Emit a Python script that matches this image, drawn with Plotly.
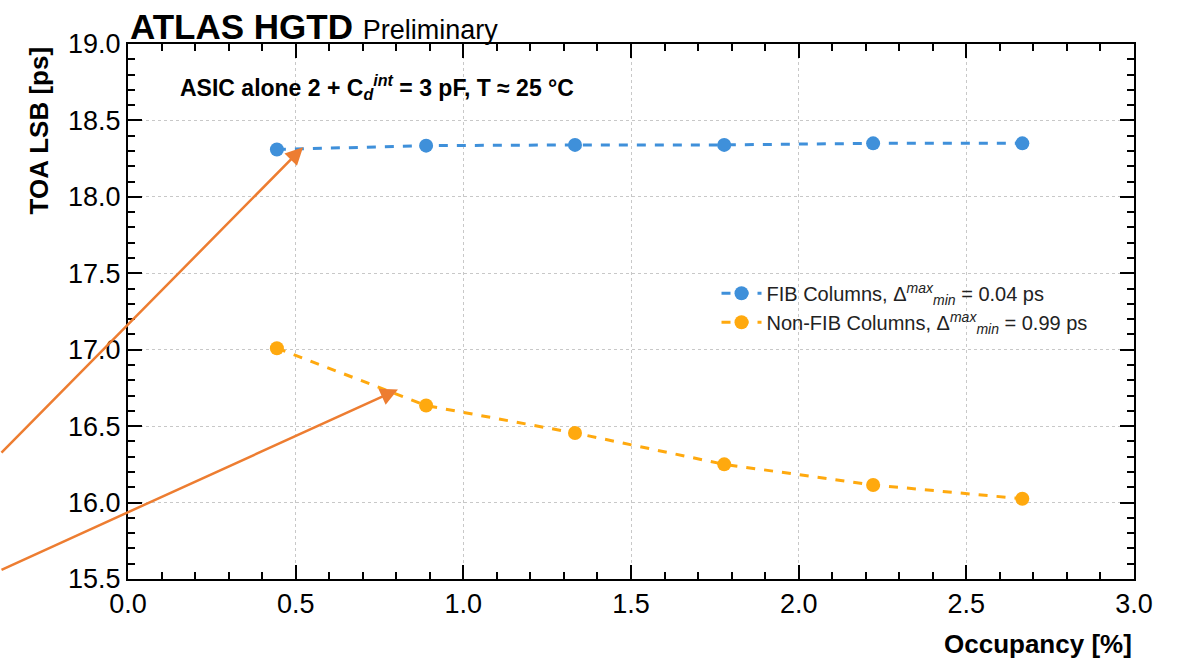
import plotly.graph_objects as go

occupancy = [0.444, 0.889, 1.333, 1.778, 2.222, 2.667]
fib_lsb = [18.31, 18.335, 18.34, 18.34, 18.35, 18.35]
nonfib_lsb = [17.01, 16.635, 16.455, 16.25, 16.115, 16.025]

fib_name = "FIB Columns, Δ<sup><i>max</i></sup><sub><i>min</i></sub> = 0.04 ps"
nonfib_name = "Non-FIB Columns, Δ<sup><i>max</i></sup><sub><i>min</i></sub> = 0.99 ps"

FONT = "Liberation Sans, Arial, Helvetica, sans-serif"
BLUE = "#3f90da"
ORANGE = "#ffa90e"
ARROW = "#ED7D31"

fig = go.Figure()
fig.add_trace(go.Scatter(x=occupancy, y=fib_lsb, mode="lines+markers", name=fib_name,
                         line=dict(color=BLUE, width=3, dash="dash"),
                         marker=dict(color=BLUE, size=14)))
fig.add_trace(go.Scatter(x=occupancy, y=nonfib_lsb, mode="lines+markers", name=nonfib_name,
                         line=dict(color=ORANGE, width=3, dash="dash"),
                         marker=dict(color=ORANGE, size=14)))

axis_common = dict(
    showline=True, linecolor="black", linewidth=2, mirror="allticks",
    ticks="inside", ticklen=14, tickwidth=2, tickcolor="black",
    showgrid=True, gridcolor="#c8c8c8", griddash="dot", gridwidth=1,
    zeroline=False, tickfont=dict(family=FONT, size=27, color="black"),
    minor=dict(ticks="inside", ticklen=7, tickwidth=1.5, tickcolor="black", dtick=0.1, showgrid=False),
)

fig.update_xaxes(range=[0, 3.0], dtick=0.5, tickformat=".1f", **axis_common)
fig.update_yaxes(range=[15.5, 19.0], dtick=0.5, tickformat=".1f", **axis_common)

fig.update_layout(
    width=1178, height=660,
    margin=dict(l=128, r=44, t=44, b=81),
    plot_bgcolor="white", paper_bgcolor="white",
    font=dict(family=FONT, color="black"),
    showlegend=True,
    legend=dict(x=0.585, y=0.507, xanchor="left", yanchor="middle",
                bgcolor="rgba(255,255,255,0)", font=dict(family=FONT, size=20, color="#222"),
                tracegroupgap=4, itemwidth=40),
)

annotations = [
    dict(text="<b>ATLAS HGTD</b> <span style='font-size:27px'>Preliminary</span>",
         xref="paper", yref="paper", x=0.0, y=1.0, xanchor="left", yanchor="bottom",
         showarrow=False, font=dict(family=FONT, size=35, color="black"), yshift=-4),
    dict(text="<b>ASIC alone 2 + C<sub><i>d</i></sub><sup><i>int</i></sup> = 3 pF, T ≈ 25 °C</b>",
         xref="paper", yref="paper", x=0.05, y=0.92, xanchor="left", yanchor="middle",
         showarrow=False, font=dict(family=FONT, size=23, color="black")),
    dict(text="<b>TOA LSB [ps]</b>", xref="paper", yref="paper", x=-0.088, y=1.0,
         xanchor="center", yanchor="top", textangle=-90, showarrow=False,
         font=dict(family=FONT, size=26, color="black")),
    dict(text="<b>Occupancy [%]</b>", xref="paper", yref="paper", x=1.0, y=-0.09,
         xanchor="right", yanchor="top", showarrow=False,
         font=dict(family=FONT, size=26, color="black")),
    dict(text="", x=0.522, y=18.325, xref="x", yref="y", showarrow=True,
         ax=-323, ay=307, arrowhead=2, arrowsize=1.4, arrowwidth=2.5, arrowcolor=ARROW),
    dict(text="", x=0.805, y=16.74, xref="x", yref="y", showarrow=True,
         ax=-418, ay=181, arrowhead=2, arrowsize=1.4, arrowwidth=2.5, arrowcolor=ARROW),
]
fig.update_layout(annotations=annotations)

fig.write_html("out.html")
